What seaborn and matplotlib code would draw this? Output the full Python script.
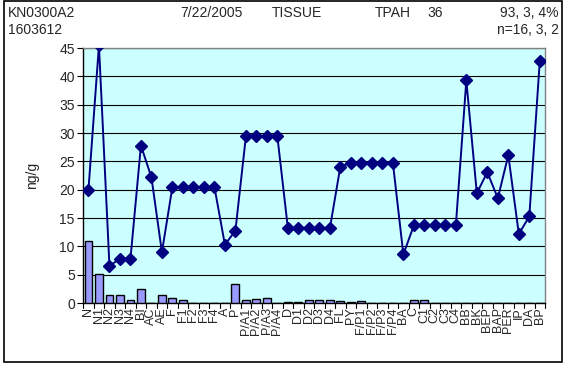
import matplotlib
matplotlib.use('Agg')
import matplotlib.pyplot as plt
import seaborn as sns
import pandas as pd
from matplotlib.patches import Rectangle

categories = ['N', 'N1', 'N2', 'N3', 'N4', 'BI', 'AC', 'AE', 'F', 'F1', 'F2', 'F3', 'F4', 'A', 'P',
              'P/A1', 'P/A2', 'P/A3', 'P/A4', 'D', 'D1', 'D2', 'D3', 'D4', 'FL', 'PY',
              'F/P1', 'F/P2', 'F/P3', 'F/P4', 'BA', 'C', 'C1', 'C2', 'C3', 'C4',
              'BB', 'BK', 'BEP', 'BAP', 'PER', 'IP', 'DA', 'BP']
line_values = [20.0, 45.5, 6.6, 7.8, 7.8, 27.8, 22.2, 9.0, 20.5, 20.5, 20.5, 20.5, 20.5, 10.3, 12.8,
               29.4, 29.4, 29.4, 29.4, 13.2, 13.2, 13.2, 13.2, 13.2, 24.1, 24.8,
               24.8, 24.8, 24.8, 24.8, 8.6, 13.7, 13.7, 13.7, 13.7, 13.7,
               39.3, 19.4, 23.1, 18.5, 26.1, 12.2, 15.3, 42.8]
bar_values = [10.9, 5.1, 1.4, 1.5, 0.6, 2.5, 0.0, 1.5, 0.9, 0.6, 0.0, 0.0, 0.0, 0.0, 3.3,
              0.6, 0.8, 0.9, 0.0, 0.15, 0.15, 0.5, 0.6, 0.5, 0.4, 0.2,
              0.4, 0.0, 0.0, 0.0, 0.0, 0.6, 0.6, 0.0, 0.0, 0.0,
              0.0, 0.0, 0.0, 0.0, 0.0, 0.0, 0.0, 0.0]

df = pd.DataFrame({'cat': categories, 'line': line_values, 'bar': bar_values})

sns.set_style('white')
plt.rcParams['font.family'] = ['Liberation Sans', 'DejaVu Sans']

fig = plt.figure(figsize=(5.66, 3.67), dpi=100)
ax = fig.add_axes([0.147, 0.174, 0.816, 0.695])
ax.set_facecolor('#CCFFFF')

sns.barplot(data=df, x='cat', y='bar', color='#9999FF', edgecolor='black', linewidth=1.0,
            width=0.75, saturation=1, ax=ax, zorder=3)
ax.plot(range(len(categories)), df['line'], color='#000080', marker='D', markersize=6,
        linewidth=1.4, zorder=4)

ax.set_xlim(-0.5, len(categories) - 0.5)
ax.set_ylim(0, 45)
ax.set_yticks(range(0, 46, 5))
ax.yaxis.grid(True, color='black', linewidth=0.8, zorder=0)
ax.set_axisbelow(True)
ax.set_ylabel('ng/g', fontsize=10)
ax.yaxis.set_label_coords(-0.095, 0.5)
ax.set_xlabel('')
ax.set_xticks(range(len(categories)))
ax.set_xticklabels(categories, rotation=90, fontsize=9)
ax.tick_params(axis='x', length=0, pad=3)
ax.tick_params(axis='y', labelsize=10, length=4, direction='out', left=True, color='black', pad=2)
for b in [i - 0.5 for i in range(len(categories) + 1)]:
    ax.plot([b, b], [0, -0.8], color='black', linewidth=0.8, clip_on=False, zorder=5)
for side in ['left', 'bottom']:
    ax.spines[side].set_color('black')
    ax.spines[side].set_linewidth(1.0)
for side in ['top', 'right']:
    ax.spines[side].set_color('#808080')
    ax.spines[side].set_linewidth(1.0)

fig.patches.append(Rectangle((0.007, 0.0136), 0.986, 0.984, transform=fig.transFigure,
                             fill=False, edgecolor='black', linewidth=1.2))

fs = 10
fig.text(8 / 566, 0.965, 'KN0300A2', fontsize=fs, va='center')
fig.text(8 / 566, 0.918, '1603612', fontsize=fs, va='center')
fig.text(180 / 566, 0.965, '7/22/2005', fontsize=fs, va='center')
fig.text(272 / 566, 0.965, 'TISSUE', fontsize=fs, va='center')
fig.text(375 / 566, 0.965, 'TPAH', fontsize=fs, va='center')
fig.text(427 / 566, 0.965, '36', fontsize=fs, va='center')
fig.text(559 / 566, 0.965, '93, 3, 4%', fontsize=fs, va='center', ha='right')
fig.text(559 / 566, 0.918, 'n=16, 3, 2', fontsize=fs, va='center', ha='right')

fig.savefig('out.png', dpi=100)
